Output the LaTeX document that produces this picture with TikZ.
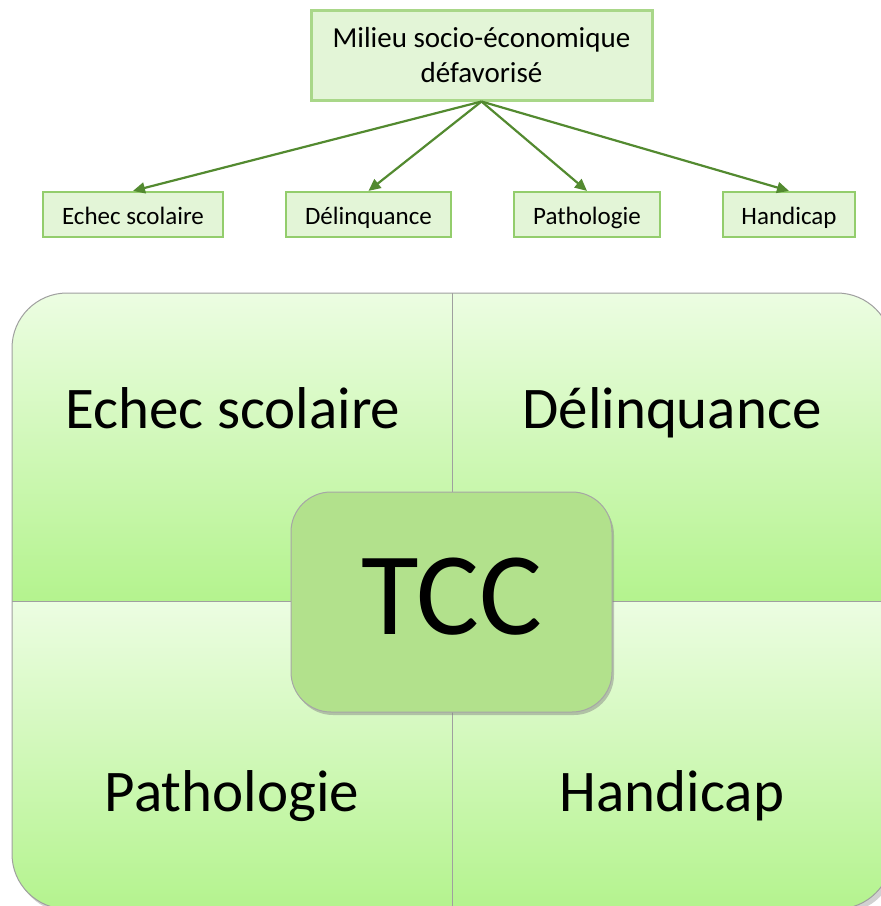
\documentclass[tikz,border=0pt]{standalone}
\usepackage{fontspec}
\setmainfont{Carlito}
\usetikzlibrary{shadows,arrows.meta}
\definecolor{qtop}{HTML}{ECFDE2}
\definecolor{qbot}{HTML}{B4F38E}
\definecolor{tccfill}{HTML}{B2E18C}
\definecolor{boxfill}{HTML}{E3F5D7}
\definecolor{boxline}{HTML}{93CD6C}
\definecolor{arrowc}{HTML}{538A30}
\tikzset{
  smallbox/.style={draw=boxline, line width=2.2pt, fill=boxfill, minimum height=45pt, inner sep=0pt,
    text height=22pt, text depth=3pt, font=\fontsize{25}{30}\selectfont},
  topbox/.style={draw=boxline!80, line width=3pt, fill=boxfill, minimum width=341pt, minimum height=90pt, align=center, inner sep=0pt, font=\fontsize{29}{35}\selectfont},
  conn/.style={draw=arrowc, line width=2.2pt, -{Triangle[length=12pt,width=11pt]}},
  quadtext/.style={font=\fontsize{59}{62}\selectfont, inner sep=0pt, anchor=base},
}
\begin{document}
\begin{tikzpicture}[x=1pt,y=-1pt]
\useasboundingbox (0,0) rectangle (881,906);
\clip (0,0) rectangle (881,906);
% top diagram
\node[topbox] (top) at (481.5,55) {Milieu socio-économique\\défavorisé};
\node[smallbox, minimum width=180pt] (e1) at (133,214.5) {Echec scolaire};
\node[smallbox, minimum width=165pt] (e2) at (368.5,214.5) {Délinquance};
\node[smallbox, minimum width=146pt] (e3) at (587,214.5) {Pathologie};
\node[smallbox, minimum width=132pt] (e4) at (789,214.5) {Handicap};
\foreach \t in {e1,e2,e3,e4} \draw[conn] (top.south) -- (\t.north);
% quadrants
\fill[black, opacity=0.18, rounded corners=55pt] (15,297) rectangle (896,913);
\begin{scope}
  \clip[rounded corners=55pt] (12,293) rectangle (892,909);
  \shade[top color=qtop, bottom color=qbot] (12,293) rectangle (452,601);
  \shade[top color=qtop, bottom color=qbot] (452,293) rectangle (892,601);
  \shade[top color=qtop, bottom color=qbot] (12,601) rectangle (452,909);
  \shade[top color=qtop, bottom color=qbot] (452,601) rectangle (892,909);
\end{scope}
\draw[gray!75, line width=1pt, rounded corners=55pt] (12,293) rectangle (892,909);
\draw[gray!75, line width=1pt] (452,293) -- (452,909);
\draw[gray!75, line width=1pt] (12,601) -- (892,601);
\node[quadtext] (q1) at (233,428) {Echec scolaire};
\node[quadtext] (q2) at (672,428) {Délinquance};
\node[quadtext] (q3) at (232,811) {Pathologie};
\node[quadtext] (q4) at (672,811) {Handicap};
% center
\node[draw=gray!70, line width=1pt, fill=tccfill, rounded corners=40pt, minimum width=321pt, minimum height=220pt,
      drop shadow={shadow xshift=2pt, shadow yshift=-3pt, opacity=0.45},
      inner sep=0pt] (tcc) at (451.5,602) {};
\node[font=\fontsize{118}{118}\selectfont, inner sep=0pt, anchor=base] (tcctext) at (451.5,634) {TCC};
\end{tikzpicture}
\end{document}
